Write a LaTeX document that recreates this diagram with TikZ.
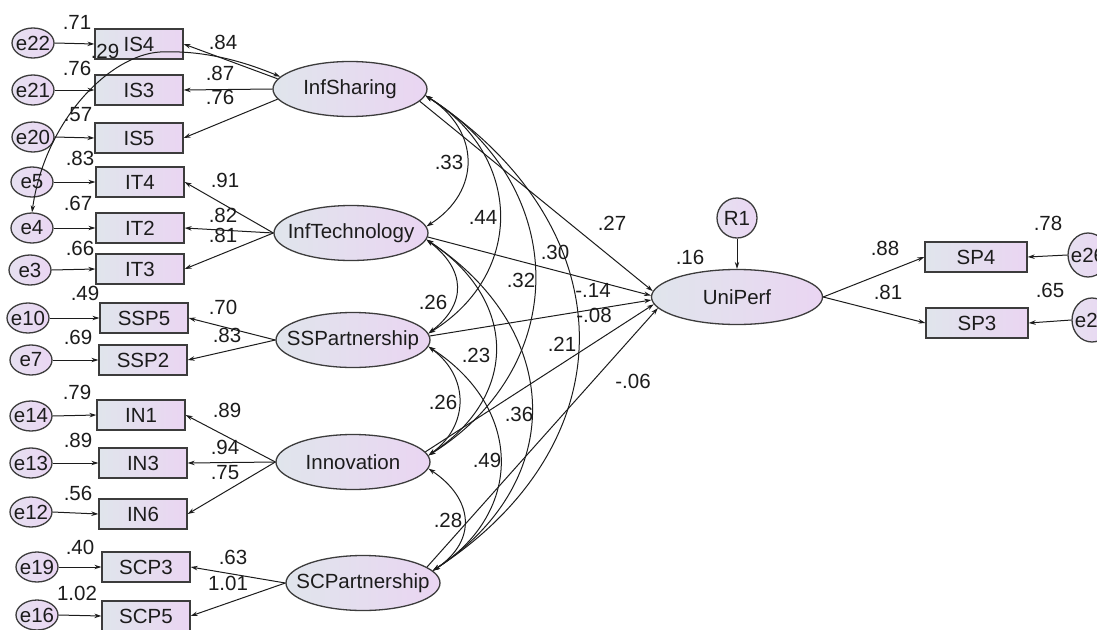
\documentclass[tikz,border=0pt]{standalone}
\usepackage{fontspec}
\setmainfont{Liberation Sans}
\usetikzlibrary{shapes.geometric,arrows.meta}
\definecolor{fillL}{RGB}{224,229,236}
\definecolor{fillR}{RGB}{234,213,242}
\definecolor{errL}{RGB}{230,224,240}
\definecolor{errR}{RGB}{234,214,243}
\definecolor{edge}{RGB}{60,60,60}
\definecolor{ink}{RGB}{28,28,28}
\newcommand{\zb}[1]{\makebox[0pt]{#1}}
\tikzset{
  txt/.style={font=\fontsize{20.5}{23}\selectfont, text=ink},
  base/.style={txt, draw=edge, line width=1.3pt, left color=fillL, right color=fillR, inner sep=0pt},
  obs/.style={base, rectangle, minimum width=88pt, minimum height=30pt},
  obsr/.style={base, rectangle, minimum width=102pt, minimum height=30pt},
  lat/.style={base, ellipse, minimum width=154pt, minimum height=55pt},
  err/.style={base, ellipse, left color=errL, right color=errR, minimum width=42pt, minimum height=30pt},
  errr/.style={base, ellipse, left color=errL, right color=errR, minimum width=40pt, minimum height=44pt},
  lbl/.style={txt, inner sep=0pt},
  tip/.tip={Stealth[length=7pt,width=4.5pt]},
  arr/.style={-tip, line width=1pt, draw=ink},
  cov/.style={tip-tip, line width=1pt, draw=ink},
}
\begin{document}
\begin{tikzpicture}[x=1pt,y=-1pt]
\useasboundingbox (0,0) rectangle (1097,629);
% error terms (left)
\node[err] (e22) at (33,43) {\zb{e22}};
\node[err] (e21) at (33,90) {\zb{e21}};
\node[err] (e20) at (33,137) {\zb{e20}};
\node[err] (e5)  at (32,182) {\zb{e5}};
\node[err] (e4)  at (32,228) {\zb{e4}};
\node[err] (e3)  at (30,270) {\zb{e3}};
\node[err] (e10) at (28,318) {\zb{e10}};
\node[err] (e7)  at (31,360) {\zb{e7}};
\node[err] (e14) at (31,416) {\zb{e14}};
\node[err] (e13) at (31,463) {\zb{e13}};
\node[err] (e12) at (31,512) {\zb{e12}};
\node[err] (e19) at (37,567) {\zb{e19}};
\node[err] (e16) at (37,615) {\zb{e16}};
% indicators (left)
\node[obs] (IS4) at (139,44) {IS4};
\node[obs] (IS3) at (139,90) {IS3};
\node[obs] (IS5) at (139,138) {IS5};
\node[obs] (IT4) at (140,182) {IT4};
\node[obs] (IT2) at (140,228) {IT2};
\node[obs] (IT3) at (140,269) {IT3};
\node[obs] (SSP5) at (144,318) {SSP5};
\node[obs] (SSP2) at (143,360) {SSP2};
\node[obs] (IN1) at (141,415) {IN1};
\node[obs] (IN3) at (143,463) {IN3};
\node[obs] (IN6) at (143,514) {IN6};
\node[obs] (SCP3) at (146,567) {SCP3};
\node[obs] (SCP5) at (146,616) {SCP5};
% latent factors
\node[lat] (IS)  at (350,89)  {\zb{InfSharing}};
\node[lat] (IT)  at (351,233) {\zb{InfTechnology}};
\node[lat] (SSP) at (353,340) {\zb{SSPartnership}};
\node[lat] (IN)  at (353,462) {\zb{Innovation}};
\node[lat] (SCP) at (363,583) {\zb{SCPartnership}};
% outcome
\node[lat, minimum width=171pt] (UP) at (737,297) {\zb{UniPerf}};
\node[base, circle, left color=errL, right color=errR, minimum size=40pt] (R1) at (737,218) {\zb{R1}};
\node[obsr] (SP4) at (976,257) {SP4};
\node[obsr] (SP3) at (977,323) {SP3};
\node[errr] (e26) at (1088,255) {\zb{e26}};
\node[errr] (e25) at (1092,320) {\zb{e25}};
% error arrows
\foreach \e/\b in {e22/IS4,e21/IS3,e20/IS5,e5/IT4,e4/IT2,e3/IT3,e10/SSP5,e7/SSP2,e14/IN1,e13/IN3,e12/IN6,e19/SCP3,e16/SCP5}
  \draw[arr] (\e.east) -- (\b.west);
% loadings
\draw[arr] (IS.172) -- (IS4.east);
\draw[arr] (IS.west) -- (IS3.east);
\draw[arr] (IS.188) -- (IS5.east);
\draw[arr] (IT.west) -- (IT4.east);
\draw[arr] (IT.west) -- (IT2.east);
\draw[arr] (IT.west) -- (IT3.east);
\draw[arr] (SSP.west) -- (SSP5.east);
\draw[arr] (SSP.west) -- (SSP2.east);
\draw[arr] (IN.west) -- (IN1.east);
\draw[arr] (IN.west) -- (IN3.east);
\draw[arr] (IN.west) -- (IN6.east);
\draw[arr] (SCP.west) -- (SCP3.east);
\draw[arr] (SCP.west) -- (SCP5.east);
% structural paths
\draw[arr] (IS.-10) -- (UP.176);
\draw[arr] (IT.-3) -- (UP.179);
\draw[arr] (SSP.3) -- (UP.182);
\draw[arr] (IN.8) -- (UP.185);
\draw[arr] (SCP.14) -- (UP.188);
\draw[arr] (R1.south) -- (UP.north);
\draw[arr] (UP.east) -- (SP4.west);
\draw[arr] (UP.east) -- (SP3.west);
\draw[arr] (e26.west) -- (SP4.east);
\draw[arr] (e25.west) -- (SP3.east);
% covariances among factors
\draw[cov] (IS.-5)  .. controls +(55,35)  and +(55,-35)  .. (IT.5);
\draw[cov] (IT.-5)  .. controls +(39,30)  and +(39,-30)  .. (SSP.5);
\draw[cov] (SSP.-5) .. controls +(41,30)  and +(41,-30)  .. (IN.5);
\draw[cov] (IN.-5)  .. controls +(45,30)  and +(45,-30)  .. (SCP.10);
\draw[cov] (IS.-5)  .. controls +(97,60)  and +(97,-60)  .. (SSP.5);
\draw[cov] (IT.-5)  .. controls +(91,60)  and +(91,-60)  .. (IN.5);
\draw[cov] (SSP.-5) .. controls +(93,60)  and +(93,-60)  .. (SCP.10);
\draw[cov] (IS.-5)  .. controls +(144,90) and +(144,-90) .. (IN.5);
\draw[cov] (IT.-5)  .. controls +(136,90) and +(136,-90) .. (SCP.10);
\draw[cov] (IS.-5)  .. controls +(199,130) and +(199,-130) .. (SCP.10);
% covariance e4 - InfSharing
\coordinate (cv) at (160,52);
\draw[cov] (e4.north) .. controls (45,120) and (110,55) .. (cv) .. controls (205,50) and (245,62) .. (IS.170);
% labels: squared multiple correlations
\node[lbl] (l1) at (77,22) {.71};
\node[lbl] (l2) at (105,51) {.29};
\node[lbl] (l3) at (77,68) {.76};
\node[lbl] (l4) at (78,115) {.57};
\node[lbl] (l5) at (80,158) {.83};
\node[lbl] (l6) at (78,203) {.67};
\node[lbl] (l7) at (80,248) {.66};
\node[lbl] (l8) at (85,293) {.49};
\node[lbl] (l9) at (78,337) {.69};
\node[lbl] (l10) at (77,392) {.79};
\node[lbl] (l11) at (78,440) {.89};
\node[lbl] (l12) at (78,493) {.56};
\node[lbl] (l13) at (80,547) {.40};
\node[lbl] (l14) at (77,593) {1.02};
% labels: loadings
\node[lbl] (m1) at (223,42) {.84};
\node[lbl] (m2) at (220,73) {.87};
\node[lbl] (m3) at (220,97) {.76};
\node[lbl] (m4) at (225,180) {.91};
\node[lbl] (m5) at (223,215) {.82};
\node[lbl] (m6) at (223,235) {.81};
\node[lbl] (m7) at (223,307) {.70};
\node[lbl] (m8) at (227,335) {.83};
\node[lbl] (m9) at (227,410) {.89};
\node[lbl] (m10) at (225,447) {.94};
\node[lbl] (m11) at (225,473) {.75};
\node[lbl] (m12) at (233,557) {.63};
\node[lbl] (m13) at (228,583) {1.01};
% labels: middle
\node[lbl] (c1) at (449,162) {.33};
\node[lbl] (c2) at (483,217) {.44};
\node[lbl] (c3) at (612,223) {.27};
\node[lbl] (c4) at (555,252) {.30};
\node[lbl] (c5) at (521,280) {.32};
\node[lbl] (c6) at (593,290) {-.14};
\node[lbl] (c7) at (433,302) {.26};
\node[lbl] (c8) at (594,315) {-.08};
\node[lbl] (c9) at (562,344) {.21};
\node[lbl] (c10) at (476,355) {.23};
\node[lbl] (c11) at (633,381) {-.06};
\node[lbl] (c12) at (443,402) {.26};
\node[lbl] (c13) at (519,414) {.36};
\node[lbl] (c14) at (487,460) {.49};
\node[lbl] (c15) at (448,520) {.28};
% labels: right
\node[lbl] (r1) at (690,257) {.16};
\node[lbl] (r2) at (885,248) {.88};
\node[lbl] (r3) at (888,292) {.81};
\node[lbl] (r4) at (1048,223) {.78};
\node[lbl] (r5) at (1050,290) {.65};
\end{tikzpicture}
\end{document}
